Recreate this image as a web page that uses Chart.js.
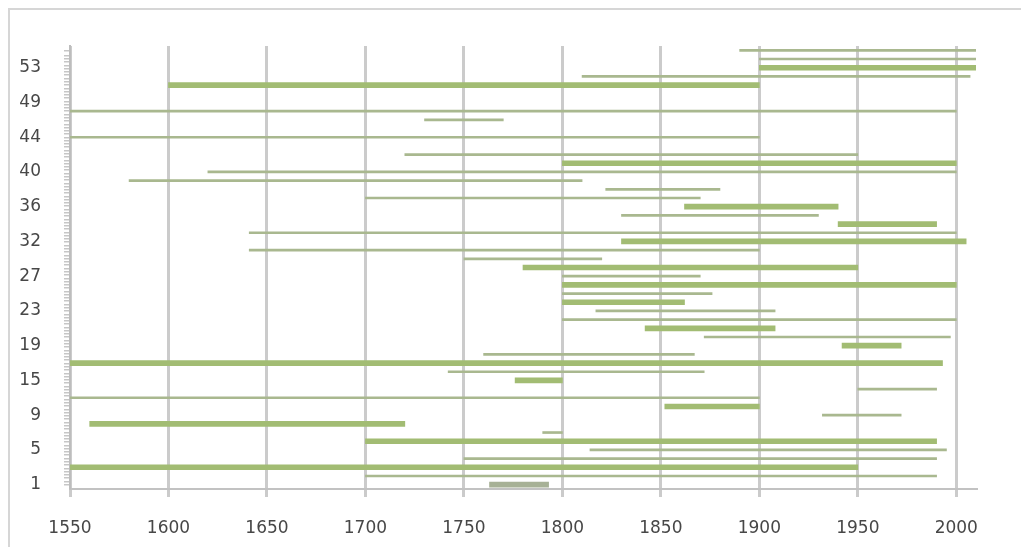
<!DOCTYPE html>
<html>
<head>
<meta charset="utf-8">
<script src="https://cdn.jsdelivr.net/npm/chart.js@4.4.1/dist/chart.umd.min.js"></script>
<style>
  html, body { margin: 0; padding: 0; background: #ffffff; }
  #wrap { position: relative; width: 1021px; height: 547px; overflow: hidden; }
  #frame { position: absolute; left: 8px; top: 8px; width: 1100px; height: 600px;
           border-left: 2px solid #d6d6d6; border-top: 2px solid #d6d6d6; box-sizing: border-box; }
  #c { position: absolute; left: 0; top: 0; }
</style>
</head>
<body>
<div id="wrap">
  <div id="frame"></div>
  <canvas id="c" width="1021" height="547"></canvas>
</div>
<script>
// ---- data (bottom row first) ----
const categories = [
  '1','2','3','4','5','6','7','8','9','11','12','14','15','16','17','18',
  '19','20','21','22','23','24','25','26','27','28','30','31','32','33','34','35',
  '36','37','38','39','40','41','42','43','44','45','47','48','49','50','51','52',
  '53','54','55'
];
const startYears = [
  1763, 1700, 1550, 1750, 1814, 1700, 1790, 1560, 1932, 1852,
  1550, 1950, 1776, 1742, 1550, 1760, 1942, 1872, 1842, 1800,
  1817, 1800, 1800, 1800, 1800, 1780, 1750, 1641, 1830, 1641,
  1940, 1830, 1862, 1700, 1822, 1580, 1620, 1800, 1720, null,
  1550, null, 1730, 1550, null, null, 1600, 1810, 1900, 1900,
  1890
];
const endYears = [
  1793, 1990, 1950, 1990, 1995, 1990, 1800, 1720, 1972, 1900,
  1900, 1990, 1800, 1872, 1993, 1867, 1972, 1997, 1908, 2000,
  1908, 1862, 1876, 2000, 1870, 1950, 1820, 1900, 2005, 2000,
  1990, 1930, 1940, 1870, 1880, 1810, 2000, 2000, 1950, null,
  1900, null, 1770, 2000, null, null, 1900, 2007, 2010, 2010,
  2010
];
const xTicks = [1550, 1600, 1650, 1700, 1750, 1800, 1850, 1900, 1950, 2000];

// ---- style (rows drawn with the wider bar) ----
const WIDE_ROWS = new Set([0,2,5,7,9,12,14,16,18,21,23,25,28,30,32,37,46,48]);

const wideData = categories.map((_, i) =>
  (WIDE_ROWS.has(i) && startYears[i] !== null) ? [startYears[i], endYears[i]] : null);
const narrowData = categories.map((_, i) =>
  (!WIDE_ROWS.has(i) && startYears[i] !== null) ? [startYears[i], endYears[i]] : null);

const labelFont = { family: 'DejaVu Sans', size: 17 };
const labelColor = '#474747';

new Chart(document.getElementById('c'), {
  type: 'bar',
  data: {
    labels: categories,
    datasets: [
      {
        label: 'wide',
        data: wideData,
        backgroundColor: (ctx) => ctx.dataIndex === 0 ? '#a7b196' : '#a2bc73',
        barThickness: 5,
        grouped: false,
        borderSkipped: false
      },
      {
        label: 'narrow',
        data: narrowData,
        backgroundColor: '#a9b88f',
        barThickness: 2,
        grouped: false,
        borderSkipped: false
      }
    ]
  },
  options: {
    indexAxis: 'y',
    responsive: false,
    animation: false,
    events: [],
    layout: { padding: { top: 46, right: 45, bottom: 12, left: 0 } },
    plugins: { legend: { display: false }, tooltip: { enabled: false } },
    scales: {
      x: {
        type: 'linear',
        min: 1550,
        max: 2010,
        afterBuildTicks: (scale) => { scale.ticks = xTicks.map(v => ({ value: v })); },
        afterFit: (scale) => { scale.height = 46; },
        ticks: { font: labelFont, color: labelColor, padding: 21, maxRotation: 0,
                 callback: (v) => String(v) },
        grid: { color: '#cbcbcb', lineWidth: 3, tickLength: 8, drawTicks: true },
        border: { display: true, color: '#c2c2c2', width: 2 }
      },
      y: {
        type: 'category',
        reverse: true,
        weight: 1,
        afterFit: (scale) => { scale.width = 62; },
        ticks: {
          autoSkip: false,
          font: labelFont,
          color: labelColor,
          padding: 13,
          callback: function (value, index) { return index % 4 === 0 ? this.getLabelForValue(value) : ''; }
        },
        grid: { display: false },
        border: { display: false }
      },
      yMinor: {
        type: 'linear',
        position: 'left',
        weight: 0,
        min: -0.5,
        max: 50.5,
        afterFit: (scale) => { scale.width = 8; },
        ticks: { display: false, stepSize: 0.38 },
        grid: { drawOnChartArea: false, drawTicks: true, tickLength: 6, color: '#c6c6c6', lineWidth: 1.5 },
        border: { display: true, color: '#bdbdbd', width: 2 }
      }
    }
  }
});
</script>
</body>
</html>
